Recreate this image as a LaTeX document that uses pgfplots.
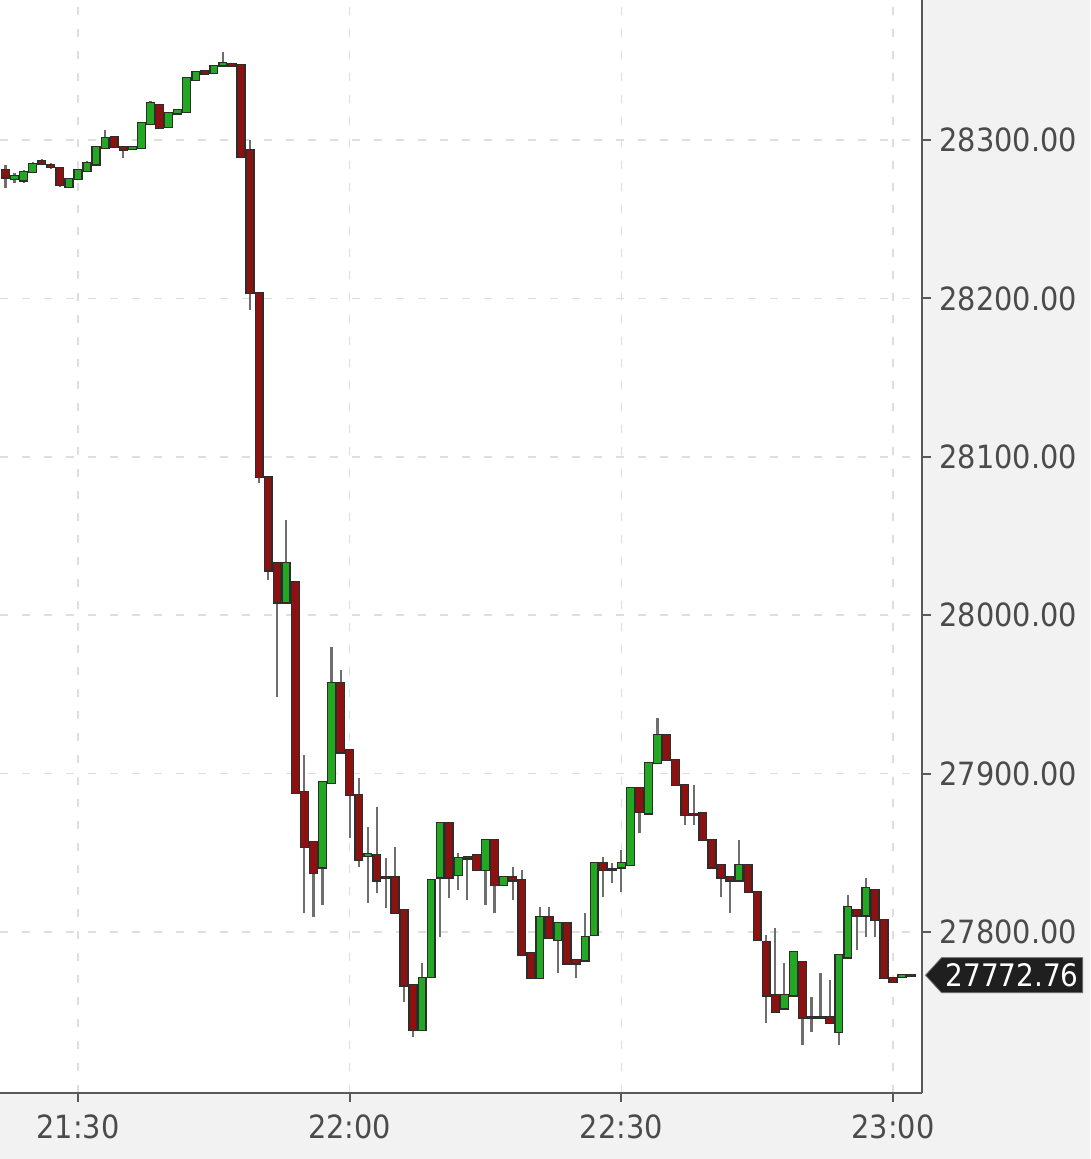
\documentclass[border=0pt]{standalone}
\usepackage{pgfplots}
\pgfplotsset{compat=1.18}
\usepackage{pgfplotstable}
\usepackage{fontspec}
\newfontfamily\lbl[FakeStretch=0.9]{DejaVu Sans}
\usetikzlibrary{shapes.symbols}
\definecolor{bg}{RGB}{242,242,242}
\definecolor{upc}{RGB}{36,168,36}
\definecolor{dnc}{RGB}{140,18,18}
\definecolor{edge}{RGB}{45,45,45}
\definecolor{wick}{RGB}{110,110,110}
\definecolor{txt}{RGB}{75,75,75}

\pgfplotstableread{
m o h l c
-7 28275.4 28279.0 28273.0 28277.3
-6 28274.7 28281.0 28273.0 28279.8
-5 28279.8 28286.0 28279.0 28284.8
-1 28270.3 28276.0 28269.5 28275.4
0 28275.4 28282.0 28274.5 28281.1
1 28280.4 28286.5 28280.0 28285.5
2 28284.8 28296.5 28284.0 28295.6
3 28295.0 28306.3 28294.5 28301.3
6 28294.3 28296.5 28293.5 28295.6
7 28295.0 28311.5 28294.5 28310.7
8 28310.1 28324.5 28309.5 28323.4
10 28308.2 28318.0 28307.5 28317.0
11 28317.0 28319.5 28316.5 28318.9
12 28317.7 28340.0 28317.0 28339.1
13 28337.9 28343.5 28337.0 28342.9
15 28342.3 28347.5 28341.5 28346.7
16 28347.3 28355.6 28346.5 28348.6
23 28008.3 28060.1 28007.5 28033.0
27 27841.0 27895.5 27817.1 27894.7
28 27894.1 27980.0 27893.5 27957.2
32 27848.0 27866.3 27818.3 27849.0
38 27738.2 27780.4 27737.5 27771.0
39 27771.6 27833.5 27771.0 27832.8
40 27834.7 27869.5 27796.8 27868.8
42 27836.0 27849.9 27826.5 27846.7
45 27839.2 27858.8 27817.1 27858.1
47 27829.7 27835.5 27829.0 27834.7
51 27771.0 27815.8 27770.5 27809.5
53 27795.0 27806.5 27774.1 27805.7
56 27782.3 27812.0 27781.5 27796.8
57 27798.1 27844.5 27797.5 27843.6
60 27841.0 27851.8 27825.3 27843.6
61 27842.3 27891.5 27841.5 27890.9
63 27875.1 27907.5 27874.5 27906.7
64 27906.7 27935.1 27906.0 27924.4
73 27832.8 27858.1 27832.2 27842.3
78 27752.0 27780.4 27751.4 27760.2
79 27760.2 27788.0 27759.6 27787.4
84 27736.9 27786.0 27728.7 27785.5
85 27784.2 27823.4 27783.6 27815.8
87 27810.7 27834.1 27796.8 27827.8
91 27771.6 27773.5 27771.0 27772.9
}\upT

\pgfplotstableread{
m o h l c
-8 28281.1 28284.2 28269.7 28276.6
-4 28286.7 28288.0 28284.0 28285.0
-3 28284.2 28285.5 28282.0 28283.0
-2 28282.3 28283.0 28270.5 28271.6
4 28301.9 28302.5 28295.0 28295.6
5 28295.6 28296.0 28288.6 28293.7
9 28322.1 28323.0 28307.0 28307.6
14 28343.6 28344.0 28341.0 28341.7
17 28348.0 28348.5 28346.0 28346.7
18 28347.3 28348.0 28288.6 28289.3
19 28293.7 28300.0 28192.7 28203.4
20 28203.4 28204.0 28083.5 28087.3
21 28087.3 28088.0 28022.2 28028.5
22 28033.0 28033.5 27948.4 28008.3
24 28021.0 28021.5 27887.0 27887.8
25 27888.4 27911.7 27812.0 27853.7
26 27856.8 27857.5 27809.5 27837.3
29 27957.2 27965.4 27913.0 27913.6
30 27914.9 27915.5 27859.3 27886.5
31 27886.5 27897.2 27841.0 27845.5
33 27848.6 27878.9 27824.6 27832.8
34 27834.7 27846.7 27815.2 27834.1
35 27834.7 27853.7 27811.5 27812.0
36 27813.9 27814.5 27755.8 27766.5
37 27766.5 27767.0 27733.7 27738.2
41 27868.8 27869.5 27821.5 27834.7
43 27847.4 27848.0 27820.2 27846.7
44 27848.6 27849.2 27838.5 27839.2
46 27858.1 27858.8 27812.0 27829.7
48 27834.7 27841.0 27820.2 27832.8
49 27832.8 27839.2 27785.0 27785.5
50 27786.8 27787.5 27770.5 27771.0
52 27809.5 27815.8 27795.5 27796.2
54 27805.7 27806.5 27780.0 27780.4
55 27782.3 27783.0 27771.0 27780.4
58 27843.6 27847.4 27822.1 27839.2
59 27839.8 27843.6 27830.9 27839.2
62 27890.9 27891.5 27862.5 27875.8
65 27924.4 27925.0 27908.0 27908.6
66 27908.6 27909.2 27892.2 27892.8
67 27892.8 27893.5 27867.6 27873.9
68 27874.5 27892.8 27867.6 27873.9
69 27875.1 27875.8 27857.5 27858.1
70 27858.1 27858.8 27840.5 27841.0
71 27842.3 27843.0 27822.1 27834.7
72 27834.7 27835.3 27812.0 27832.8
74 27842.3 27843.0 27824.6 27825.3
75 27825.3 27826.0 27794.4 27795.0
76 27793.7 27798.1 27742.6 27760.2
77 27760.2 27802.5 27748.9 27749.5
80 27781.1 27781.7 27728.7 27745.7
81 27746.3 27759.0 27736.9 27745.7
82 27746.3 27774.1 27745.0 27745.7
83 27746.3 27769.7 27742.0 27742.6
86 27813.9 27814.5 27788.6 27810.7
88 27826.5 27827.2 27796.8 27807.6
89 27807.6 27808.2 27770.4 27771.0
90 27771.0 27771.6 27768.0 27768.5
92 27772.8 27773.5 27772.0 27772.76
}\dnT

\pgfplotsset{
  nomark/.style={only marks, mark=none, mark size=0pt,
    mark options={draw=none, fill=none}, forget plot},
  wickplot/.style={nomark,
    error bars/.cd, y dir=plus, y explicit, error mark=none,
    error bar style={draw=wick, line width=1.1pt, line cap=butt}},
  edgeplot/.style={nomark,
    error bars/.cd, y dir=plus, y explicit, error mark=none,
    error bar style={draw=edge, line width=4.6pt, line cap=butt}},
  bodyplot/.style={nomark,
    error bars/.cd, y dir=plus, y explicit, error mark=none,
    error bar style={draw=#1, line width=3.2pt, line cap=butt}},
}

\begin{document}
\begin{tikzpicture}
\fill[bg] (0,0) rectangle (545pt,579.5pt);
\useasboundingbox (0,0) rectangle (545pt,579.5pt);
\begin{axis}[
  at={(0pt,33pt)}, anchor=south west,
  scale only axis, width=461pt, height=546.5pt,
  xmin=-8.61, xmax=93.2, ymin=27698.4, ymax=28388.4,
  axis x line*=bottom, axis y line*=right,
  axis line style={black!65, line width=1pt},
  tick align=outside, major tick length=4.5pt,
  tick style={black!65, line width=1pt},
  xtick={0,30,60,90}, xticklabels={21:30,22:00,22:30,23:00},
  ytick={27800,27900,28000,28100,28200,28300},
  yticklabels={27800.00,27900.00,28000.00,28100.00,28200.00,28300.00},
  ticklabel style={font=\lbl\fontsize{16}{18}\selectfont, text=txt, inner sep=0pt},
  xticklabel style={anchor=north, yshift=-6pt},
  yticklabel style={anchor=west, xshift=4pt},
  grid=major,
  major grid style={black!13, line width=0.8pt, dash pattern=on 4pt off 7pt},
  axis background/.style={fill=white},
]
\addplot[wickplot] table[x=m, y=l, y error plus expr=\thisrow{h}-\thisrow{l}] {\upT};
\addplot[wickplot] table[x=m, y=l, y error plus expr=\thisrow{h}-\thisrow{l}] {\dnT};
\addplot[edgeplot] table[x=m, y expr={min(\thisrow{o},\thisrow{c})-0.9}, y error plus expr={abs(\thisrow{c}-\thisrow{o})+1.8}] {\upT};
\addplot[edgeplot] table[x=m, y expr={min(\thisrow{o},\thisrow{c})-0.9}, y error plus expr={abs(\thisrow{c}-\thisrow{o})+1.8}] {\dnT};
\addplot[bodyplot=upc] table[x=m, y expr={min(\thisrow{o},\thisrow{c})}, y error plus expr={abs(\thisrow{c}-\thisrow{o})}] {\upT};
\addplot[bodyplot=dnc] table[x=m, y expr={min(\thisrow{o},\thisrow{c})}, y error plus expr={abs(\thisrow{c}-\thisrow{o})}] {\dnT};
\coordinate (tag) at (axis cs:93.2,27772.76);
\end{axis}
\node[signal, signal to=west, signal pointer angle=95, fill=black!88, draw=black!60,
  text=white, font=\lbl\fontsize{15.5}{17}\selectfont, inner xsep=2pt, inner ysep=0pt,
  minimum height=17.5pt, anchor=west] at ([xshift=1.5pt]tag) {27772.76};
\end{tikzpicture}
\end{document}
